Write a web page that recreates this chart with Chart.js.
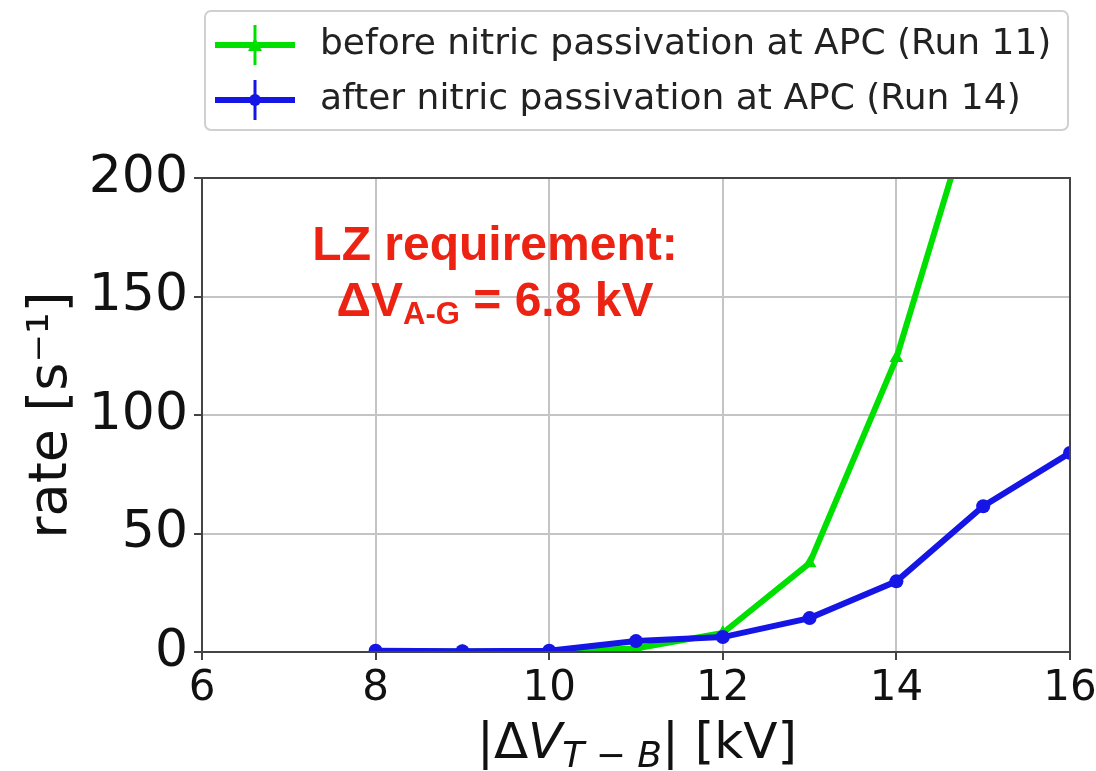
<!DOCTYPE html>
<html>
<head>
<meta charset="utf-8">
<script src="https://cdn.jsdelivr.net/npm/chart.js@4"></script>
<style>
  html, body { margin: 0; padding: 0; background: #fff; }
  #wrap { width: 1096px; height: 771px; }
</style>
</head>
<body>
<div id="wrap"><canvas id="rateChart" width="1096" height="771"></canvas></div>
<script>
// voltage points (kV) and measured rates (1/s)
const beforeKV = [8, 9, 10, 11, 12, 13, 14, 15]
const beforeRate = [0.2, 0.2, 0.2, 1.5, 8, 37.5, 124, 245]
const afterKV = [8, 9, 10, 11, 12, 13, 14, 15, 16]
const afterRate = [0.5, 0.3, 0.5, 4.6, 6.3, 14.3, 29.8, 61.5, 84]

const xTicks = [6, 8, 10, 12, 14, 16]
const yTicks = [0, 50, 100, 150, 200]

const seriesLabels = ['before nitric passivation at APC (Run 11)', 'after nitric passivation at APC (Run 14)']
const green = '#00e000'
const blue = '#1515e6'

const toPoints = (xs, ys) => xs.map((x, i) => ({ x: x, y: ys[i] }))

// legend, frame, titles and the red note
const extras = {
  id: 'extras',
  afterDraw(chart) {
    const ctx = chart.ctx
    const a = chart.chartArea
    ctx.save()

    // frame around the plot
    ctx.strokeStyle = '#444'
    ctx.lineWidth = 2
    ctx.strokeRect(a.left, a.top, a.right - a.left, a.bottom - a.top)

    // red note
    ctx.fillStyle = '#ec2312'
    ctx.textBaseline = 'alphabetic'
    ctx.textAlign = 'center'
    ctx.font = 'bold 48px "Liberation Sans"'
    ctx.fillText('LZ requirement:', 495, 260)
    const big = 'bold 48px "Liberation Sans"'
    const small = 'bold 31px "Liberation Sans"'
    ctx.font = big
    const w1 = ctx.measureText('ΔV').width
    const w3 = ctx.measureText(' = 6.8 kV').width
    ctx.font = small
    const w2 = ctx.measureText('A-G').width
    let x = 495 - (w1 + w2 + w3) / 2
    ctx.textAlign = 'left'
    ctx.font = big
    ctx.fillText('ΔV', x, 316)
    x += w1
    ctx.font = small
    ctx.fillText('A-G', x, 324)
    x += w2
    ctx.font = big
    ctx.fillText(' = 6.8 kV', x, 316)

    // y title
    ctx.fillStyle = '#111'
    ctx.save()
    ctx.translate(66, 415)
    ctx.rotate(-Math.PI / 2)
    ctx.textAlign = 'center'
    ctx.font = '54px "DejaVu Sans"'
    ctx.fillText('rate [s⁻¹]', 0, 0)
    ctx.restore()

    // x title |ΔV_{T-B}| [kV]
    const parts = [
      ['|Δ', '50px "DejaVu Sans"', 0],
      ['V', 'oblique 50px "DejaVu Sans"', 0],
      ['T − B', 'oblique 36px "DejaVu Sans"', 9],
      ['| [kV]', '50px "DejaVu Sans"', 0]
    ]
    let total = 0
    parts.forEach(p => { ctx.font = p[1]; total += ctx.measureText(p[0]).width })
    x = 637 - total / 2
    ctx.textAlign = 'left'
    parts.forEach(p => {
      ctx.font = p[1]
      ctx.fillText(p[0], x, 758 + p[2])
      x += ctx.measureText(p[0]).width
    })

    // legend box
    ctx.fillStyle = 'rgba(255,255,255,0.9)'
    ctx.strokeStyle = '#d0d0d0'
    ctx.lineWidth = 2
    ctx.beginPath()
    ctx.roundRect(205, 11, 863, 119, 6)
    ctx.fill()
    ctx.stroke()
    chart.data.datasets.forEach((ds, i) => {
      const cy = 45 + i * 55
      ctx.strokeStyle = ds.borderColor
      ctx.fillStyle = ds.borderColor
      ctx.lineWidth = 6
      ctx.beginPath()
      ctx.moveTo(215, cy)
      ctx.lineTo(295, cy)
      ctx.stroke()
      ctx.lineWidth = 3
      ctx.beginPath()
      ctx.moveTo(255, cy - 20)
      ctx.lineTo(255, cy + 20)
      ctx.stroke()
      ctx.beginPath()
      if (ds.pointStyle === 'triangle') {
        ctx.moveTo(255, cy - 7)
        ctx.lineTo(262, cy + 6)
        ctx.lineTo(248, cy + 6)
        ctx.closePath()
      } else {
        ctx.arc(255, cy, 6, 0, Math.PI * 2)
      }
      ctx.fill()
      ctx.fillStyle = '#222'
      ctx.font = '36px "DejaVu Sans"'
      ctx.textAlign = 'left'
      ctx.textBaseline = 'middle'
      ctx.fillText(ds.label, 320, cy)
    })
    ctx.restore()
  }
}

const ctxRate = document.getElementById('rateChart').getContext('2d')

const rateChart = new Chart(ctxRate, {
  type: 'line',
  data: {
    datasets: [{
      label: seriesLabels[0],
      data: toPoints(beforeKV, beforeRate),
      borderColor: green,
      backgroundColor: green,
      borderWidth: 6,
      pointStyle: 'triangle',
      pointRadius: 8,
      pointBorderWidth: 0,
      order: 2,
    }, {
      label: seriesLabels[1],
      data: toPoints(afterKV, afterRate),
      borderColor: blue,
      backgroundColor: blue,
      borderWidth: 6,
      pointStyle: 'circle',
      pointRadius: 7,
      pointBorderWidth: 0,
      order: 1,
    }],
  },
  options: {
    responsive: false,
    animation: false,
    layout: { padding: { top: 178, right: 26, left: 0, bottom: 0 } },
    scales: {
      x: {
        type: 'linear',
        min: 6,
        max: 16,
        afterFit: s => { s.height = 119; s.paddingLeft = 0; s.paddingRight = 0 },
        afterBuildTicks: s => { s.ticks = xTicks.map(v => ({ value: v })) },
        grid: { color: '#c4c4c4', lineWidth: 2, tickLength: 8, tickColor: '#444' },
        border: { color: '#444', width: 2 },
        ticks: { color: '#111', font: { family: 'DejaVu Sans', size: 42 }, padding: 4, maxRotation: 0 },
      },
      y: {
        min: 0,
        max: 200,
        afterFit: s => { s.width = 202; s.paddingTop = 0; s.paddingBottom = 0 },
        afterBuildTicks: s => { s.ticks = yTicks.map(v => ({ value: v })) },
        grid: { color: '#c4c4c4', lineWidth: 2, tickLength: 8, tickColor: '#444' },
        border: { color: '#444', width: 2 },
        ticks: { color: '#111', font: { family: 'DejaVu Sans', size: 52 }, padding: 6 },
      },
    },
    plugins: {
      legend: { display: false },
      tooltip: { enabled: false },
    },
  },
  plugins: [extras],
})
</script>
</body>
</html>
